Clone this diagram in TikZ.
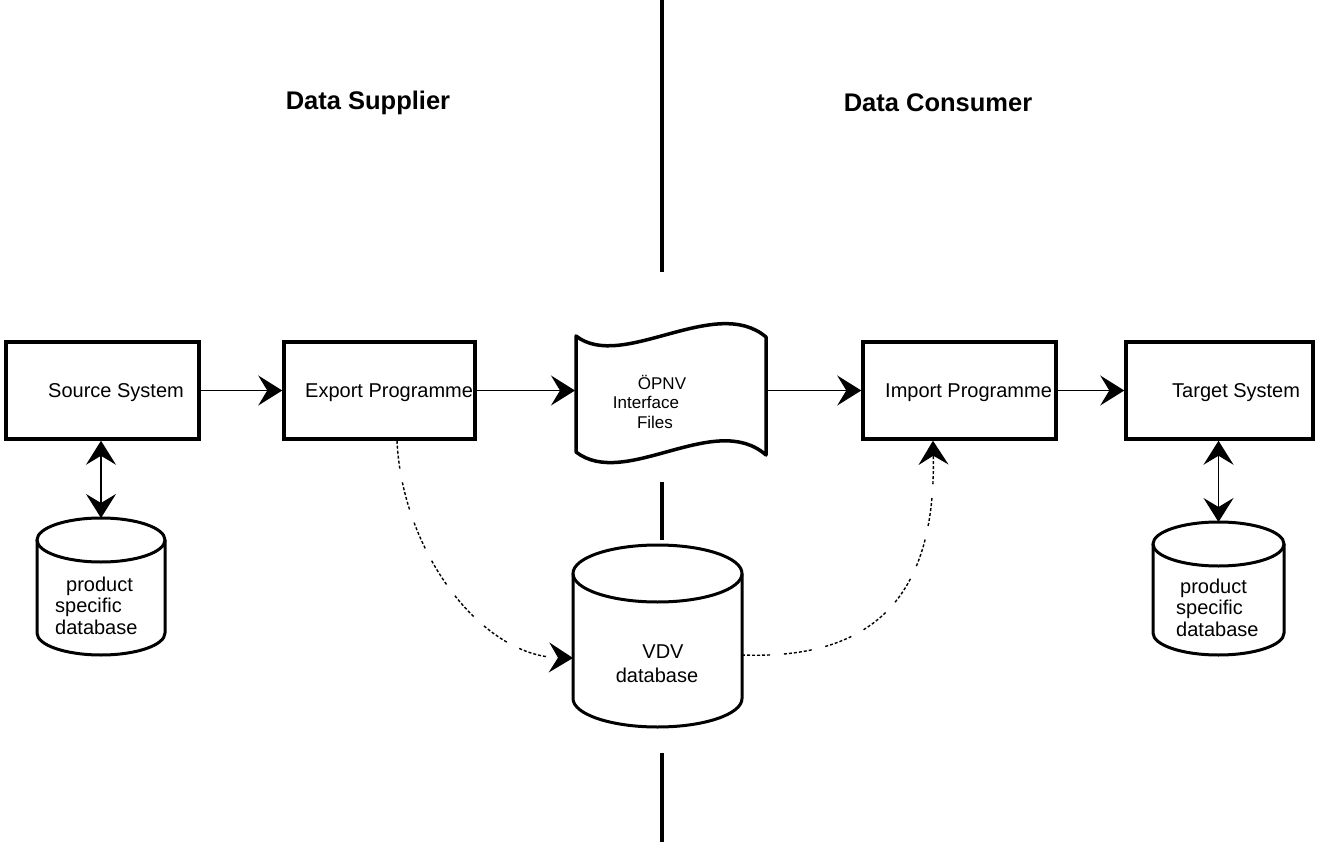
\documentclass[tikz,border=0pt]{standalone}
\usepackage{fontspec}
\setmainfont{Liberation Sans}
\usetikzlibrary{arrows.meta,calc}
\begin{document}
\begin{tikzpicture}[x=1pt,y=-1pt,
  boxn/.style={draw, line width=3.5pt, minimum height=97pt, inner sep=0pt},
  lbl/.style={font=\fontsize{20}{24}\selectfont, inner sep=0pt, anchor=west, text height=14.5pt, text depth=4pt},
  flbl/.style={font=\fontsize{17}{20}\selectfont, inner sep=0pt, text height=12.3pt, text depth=3.5pt},
  head/.style={font=\fontsize{25.5}{30}\selectfont\bfseries, inner sep=0pt},
  tipk/.tip={Stealth[length=24pt,width=30pt,inset=9pt]},
  conn/.style={line width=1.3pt, -tipk},
  dbl/.style={line width=1.3pt, tipk-tipk},
  cylline/.style={line width=3pt},
  divider/.style={line width=4.5pt},
  dcurve/.style={line width=1.4pt, dash pattern=on 3pt off 2pt on 3pt off 2pt on 3pt off 2pt on 3pt off 2pt on 3pt off 2pt on 3pt off 14pt, -tipk}
]
\useasboundingbox (0,0) rectangle (1320,842);

% divider
\draw[divider] (662,0) -- (662,272);
\draw[divider] (662,482) -- (662,540);
\draw[divider] (662,753) -- (662,842);

% headers
\node[head] (hsup) at (368,103) {Data Supplier};
\node[head] (hcon) at (938,103) {Data Consumer};

% boxes
\node[boxn, minimum width=193pt] (src) at (102.5,390.5) {};
\node[boxn, minimum width=191pt] (exp) at (379.5,390.5) {};
\node[boxn, minimum width=193pt] (imp) at (959.5,390.5) {};
\node[boxn, minimum width=187pt] (tgt) at (1219.5,390.5) {};
\node[lbl] (srcl) at (48,392) {Source System};
\node[lbl] (expl) at (305,392) {Export Programme};
\node[lbl] (impl) at (885,392) {Import Programme};
\node[lbl] (tgtl) at (1172,392) {Target System};

% interface files shape
\draw[line width=3.5pt, line join=round]
  (576,336) .. controls (622,372) and (715,294) .. (766,337)
  -- (766,455) .. controls (715,410) and (625,490) .. (576,452) -- cycle;
\coordinate (fl) at (575,390.5);
\coordinate (fr) at (767,390.5);
\node[flbl] (f1) at (662,385) {ÖPNV};
\node[flbl] (f2) at (646,404) {Interface};
\node[flbl] (f3) at (655,424) {Files};

% left database
\draw[cylline] (101,540) ellipse (64 and 22);
\draw[cylline] (37,540) -- (37,633) arc (180:0:64 and 22) -- (165,540);
\coordinate (db1) at (101,518);
\node[lbl] (d1a) at (66,586) {product};
\node[lbl] (d1b) at (55,607) {specific};
\node[lbl] (d1c) at (55,629) {database};

% right database
\draw[cylline] (1218.5,544) ellipse (65.5 and 22);
\draw[cylline] (1153,544) -- (1153,633) arc (180:0:65.5 and 22) -- (1284,544);
\coordinate (db2) at (1218.5,522);
\node[lbl] (d2a) at (1180,588) {product};
\node[lbl] (d2b) at (1176,609) {specific};
\node[lbl] (d2c) at (1176,631) {database};

% VDV database
\draw[cylline] (657.5,573.5) ellipse (84.5 and 28.5);
\draw[cylline] (573,573.5) -- (573,698.5) arc (180:0:84.5 and 28.5) -- (742,573.5);
\coordinate (vdvin) at (573,658);
\coordinate (vdvout) at (742,655);
\node[lbl, anchor=center] (v1) at (663,653) {VDV};
\node[lbl, anchor=center] (v2) at (657,677) {database};

% connectors
\draw[conn] (src.east) -- (exp.west);
\draw[conn] (exp.east) -- (fl);
\draw[conn] (fr) -- (imp.west);
\draw[conn] (imp.east) -- (tgt.west);
\draw[dbl] (db1 |- src.south) -- (db1);
\draw[dbl] (db2 |- tgt.south) -- (db2);

\draw[dcurve] ($(exp.south west)!0.59!(exp.south east)$) .. controls (402,550) and (480,656) .. (vdvin);
\draw[dcurve] (vdvout) .. controls (880,660) and (936,590) .. ($(imp.south west)!0.365!(imp.south east)$);
\end{tikzpicture}
\end{document}
